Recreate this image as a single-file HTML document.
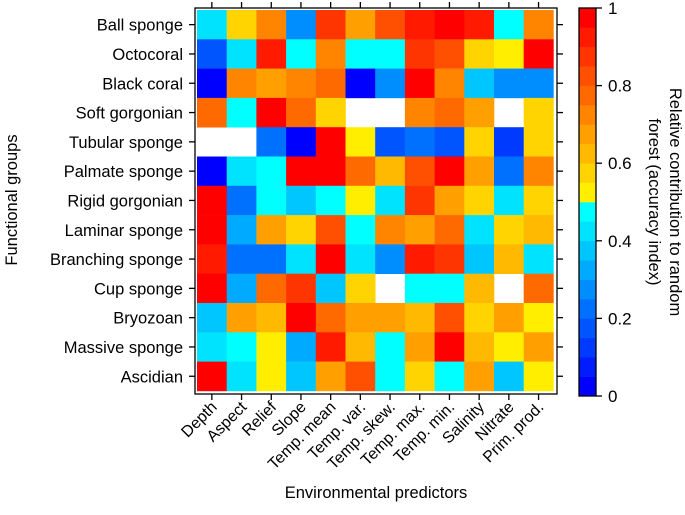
<!DOCTYPE html>
<html><head><meta charset="utf-8"><style>
body{margin:0;background:#fff;}
svg{display:block;font-family:"Liberation Sans",Arial,sans-serif;}
</style></head><body>
<svg id="chart" width="685" height="515" viewBox="0 0 685 515" xmlns="http://www.w3.org/2000/svg">
<text x="0" y="0" font-size="16.5" text-anchor="middle" transform="translate(17,200) rotate(-90)">Functional groups</text>
<text x="376" y="498" font-size="16.5" text-anchor="middle">Environmental predictors</text>
<text font-size="16.5" text-anchor="middle" transform="translate(670,202) rotate(90)"><tspan x="0" y="0">Relative contribution to random</tspan><tspan x="0" y="21">forest (accuracy index)</tspan></text>
<g id="cells"></g><g id="axes"></g>
</svg>
<script>
const rows=["Ball sponge","Octocoral","Black coral","Soft gorgonian","Tubular sponge","Palmate sponge","Rigid gorgonian","Laminar sponge","Branching sponge","Cup sponge","Bryozoan","Massive sponge","Ascidian"];
const cols=["Depth","Aspect","Relief","Slope","Temp. mean","Temp. var.","Temp. skew.","Temp. max.","Temp. min.","Salinity","Nitrate","Prim. prod."];
const N=null;
const r0=[0.42,0.56,0.74,0.25,0.87,0.65,0.83,0.92,0.98,0.93,0.49,0.70];
const r1=[0.17,0.42,0.93,0.45,0.70,0.49,0.48,0.87,0.83,0.56,0.51,0.98];
const r2=[0.03,0.70,0.65,0.74,0.78,0.01,0.25,0.97,0.74,0.38,0.26,0.29];
const r3=[0.78,0.45,0.98,0.78,0.56,N,N,0.74,0.78,0.69,N,0.56];
const r4=[N,N,0.20,0.00,0.97,0.51,0.19,0.22,0.19,0.57,0.12,0.56];
const r5=[0.03,0.42,0.49,0.98,0.97,0.76,0.62,0.83,0.97,0.69,0.22,0.74];
const r6=[0.98,0.20,0.49,0.37,0.49,0.51,0.40,0.87,0.69,0.56,0.40,0.56];
const r7=[0.98,0.31,0.69,0.56,0.83,0.49,0.74,0.65,0.76,0.42,0.56,0.61];
const r8=[0.90,0.23,0.20,0.42,0.98,0.40,0.26,0.93,0.87,0.37,0.62,0.40];
const r9=[0.98,0.31,0.78,0.87,0.37,0.56,N,0.45,0.49,0.61,N,0.78];
const r10=[0.37,0.65,0.61,0.98,0.78,0.65,0.65,0.61,0.83,0.56,0.65,0.51];
const r11=[0.44,0.49,0.51,0.33,0.93,0.61,0.49,0.69,0.98,0.61,0.51,0.65];
const r12=[0.98,0.44,0.51,0.37,0.65,0.80,0.49,0.56,0.49,0.69,0.37,0.51];
const values=[r0,r1,r2,r3,r4,r5,r6,r7,r8,r9,r10,r11,r12];
const cbTicks=[0,0.2,0.4,0.6,0.8,1];
const NS="http://www.w3.org/2000/svg";
const X0=197,CW=29.7,Y0=10,RH=29.3;
function xs(i){return X0+CW*i;}
function ys(j){return Y0+RH*j;}
function color(v){let b=Math.min(19,Math.floor(v*20));
 if(b<10){return `rgb(0,${Math.round(b*255/9)},255)`;}
 return `rgb(255,${Math.round(238-(b-10)*238/9)},0)`;}
function mk(tag,attrs,parent){const e=document.createElementNS(NS,tag);for(const k in attrs)e.setAttribute(k,attrs[k]);parent.appendChild(e);return e;}
const cells=document.getElementById('cells'),axes=document.getElementById('axes');
values.forEach((row,j)=>row.forEach((v,i)=>{if(v===null)return;
 const r=mk('rect',{x:xs(i),y:ys(j),width:CW+0.3,height:RH+0.3,fill:color(v)},cells);
 
 }));
const fx0=195,fx1=557,fy0=8,fy1=394;
const fr=mk('rect',{x:fx0,y:fy0,width:fx1-fx0,height:fy1-fy0,fill:'none',stroke:'#000','stroke-width':1.3},axes);


rows.forEach((n,j)=>{const y=ys(j)+RH/2;
 mk('line',{x1:fx0-6,x2:fx0,y1:y,y2:y,stroke:'#000','stroke-width':1.3},axes);
 mk('line',{x1:fx1,x2:fx1+6,y1:y,y2:y,stroke:'#000','stroke-width':1.3},axes);
 const t=mk('text',{x:fx0-12,y:y+6,'font-size':16.5,'text-anchor':'end'},axes);t.textContent=n;
 
 });
cols.forEach((n,i)=>{const x=xs(i)+CW/2;
 mk('line',{x1:x,x2:x,y1:fy0-6,y2:fy0,stroke:'#000','stroke-width':1.3},axes);
 mk('line',{x1:x,x2:x,y1:fy1,y2:fy1+6,stroke:'#000','stroke-width':1.3},axes);
 const t=mk('text',{x:0,y:0,'font-size':16,'text-anchor':'end',transform:`translate(${x+6},${fy1+14}) rotate(-45)`},axes);t.textContent=n;
 
 });
const cbx=579,cbw=17,cby0=8,cby1=396;
function cy(v){return cby1-(cby1-cby0)*v;}
for(let b=0;b<20;b++){const r=mk('rect',{x:cbx,y:cy((b+1)/20),width:cbw,height:(cby1-cby0)/20+0.3,fill:color(b/20+0.01)},axes);
 
 }
const cb=mk('rect',{x:cbx,y:cby0,width:cbw,height:cby1-cby0,fill:'none',stroke:'#000','stroke-width':1.3},axes);


cbTicks.forEach(v=>{const y=cy(v);
 mk('line',{x1:cbx+cbw,x2:cbx+cbw+6,y1:y,y2:y,stroke:'#000','stroke-width':1.3},axes);
 const t=mk('text',{x:cbx+cbw+12,y:y+6,'font-size':17},axes);t.textContent=String(v);
 
 });
</script>
</body></html>
